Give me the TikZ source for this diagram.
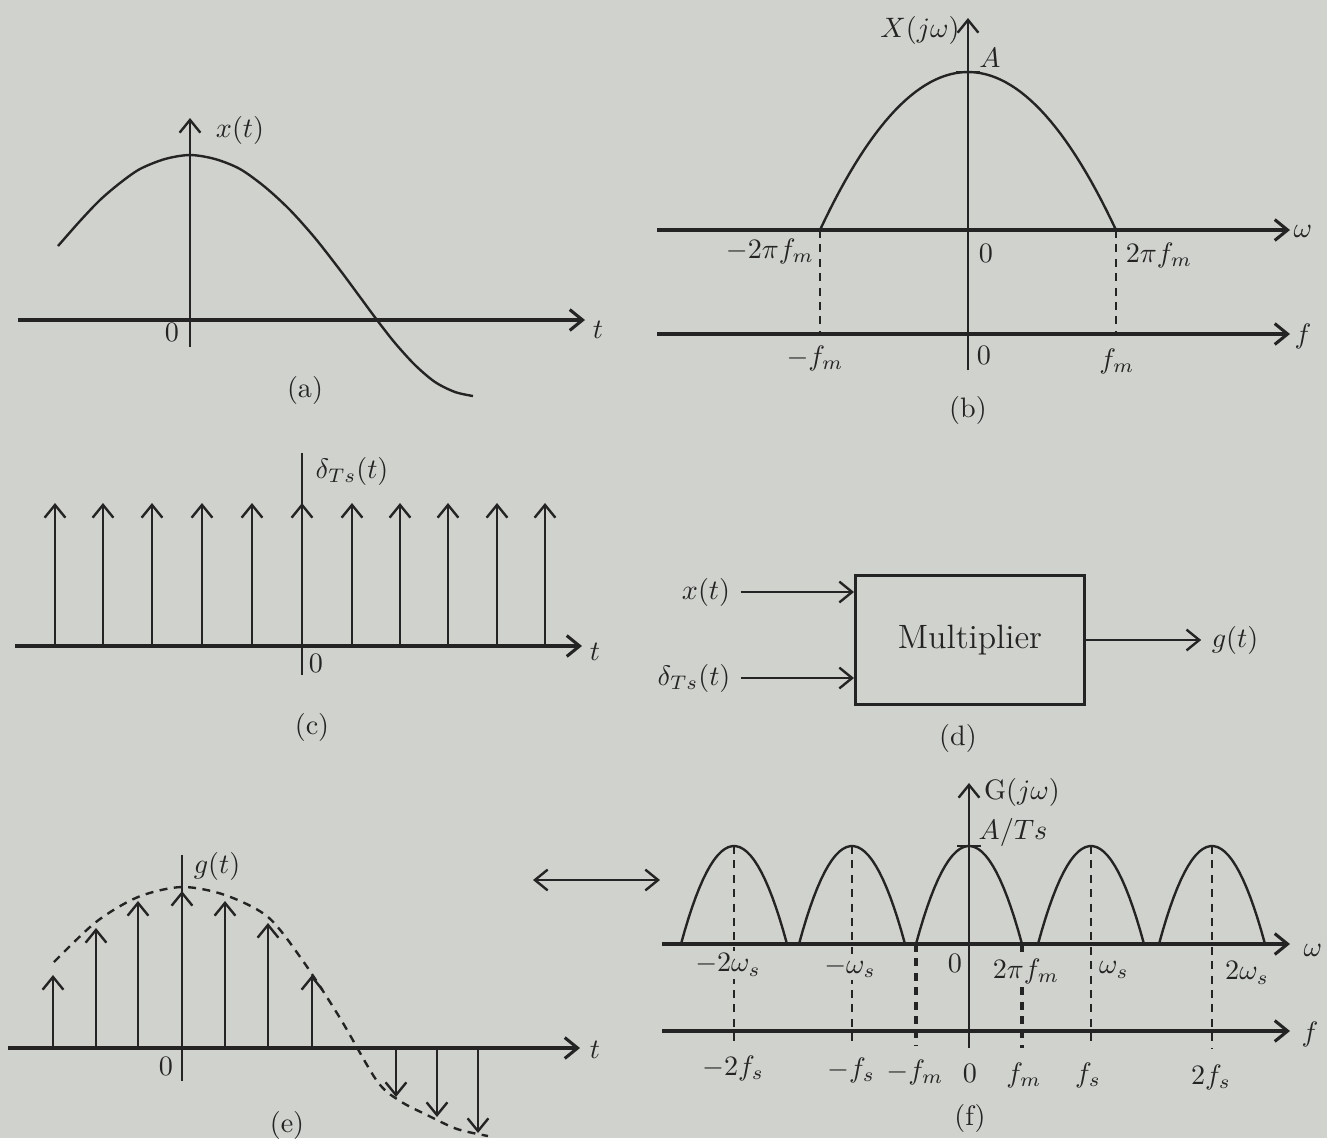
\documentclass[tikz,border=0pt]{standalone}
\usetikzlibrary{arrows.meta}
\definecolor{paper}{RGB}{208,211,205}
\definecolor{ink}{RGB}{36,36,36}
\begin{document}
\begin{tikzpicture}[x=0.0125cm, y=-0.0125cm, ink, line width=0.85pt,
		>={Straight Barb[length=1.6mm,width=2.6mm]},
		axis/.style={line width=1.1pt},
		guide/.style={dash pattern=on 1mm off 0.8mm},
		guidebold/.style={guide, line width=1.3pt},
		lbl/.style={fill=paper, inner sep=1pt}]
	\fill[paper] (0,0) rectangle (1327,1138);
	\useasboundingbox (0,0) rectangle (1327,1138);

	\draw[axis, ->] (18,320) -- (585,320);
	\draw[->] (190,347) -- (190,118);
	\draw plot[smooth] coordinates {(58,246) (80,221) (100,200) (120,183) (140,169) (165,159) (190,155) (215,159) (240,169) (265,187) (290,210) (315,238) (340,270) (360,297) (377,320) (395,343) (415,365) (435,382) (455,392) (473,396)};
	\node (xa) at (240,130) {$x(t)$};
	\node (oa) at (172,332) {0};
	\node (ta) at (598,330) {$t$};
	\node (capa) at (305,390) {(a)};

	\draw[axis, ->] (657,230) -- (1290,230);
	\draw[axis, ->] (657,334) -- (1290,334);
	\draw[->] (968,370) -- (968,18);
	\draw plot[domain=-148:148, samples=60] ({968+\x},{72+158*(\x/148)^2});
	\draw (956,72) -- (980,72);
	\draw[guide] (820,230) -- (820,334);
	\draw[guide] (1116,230) -- (1116,334);
	\node (xb) at (920,30) {$X(j\omega)$};
	\node (ab) at (990,58) {$A$};
	\node (wb) at (1303,231) {$\omega$};
	\node (fb) at (1303,336) {$f$};
	\node (wml) at (770,251) {$-2\pi f_m$};
	\node (wo) at (986,253) {0};
	\node (wmr) at (1159,255) {$2\pi f_m$};
	\node (fml) at (815,358) {$-f_m$};
	\node (fo) at (984,355) {0};
	\node (fmr) at (1117,361) {$f_m$};
	\node (capb) at (968,410) {(b)};

	\draw[axis, ->] (15,646) -- (582,646);
	\draw (302,453) -- (302,675);
	\draw[->] (55,646) -- (55,503);
	\draw[->] (103,646) -- (103,503);
	\draw[->] (152,646) -- (152,503);
	\draw[->] (202,646) -- (202,503);
	\draw[->] (252,646) -- (252,503);
	\draw[->] (302,646) -- (302,503);
	\draw[->] (352,646) -- (352,503);
	\draw[->] (400,646) -- (400,503);
	\draw[->] (448,646) -- (448,503);
	\draw[->] (497,646) -- (497,503);
	\draw[->] (545,646) -- (545,503);
	\node (dc) at (352,471) {$\delta_{Ts}(t)$};
	\node (oc) at (316,663) {0};
	\node (tc) at (595,652) {$t$};
	\node (capc) at (312,727) {(c)};

	\node[draw, line width=1.1pt, minimum width=2.86cm, minimum height=1.62cm, font=\large] (mult) at (970,640) {Multiplier};
	\node (xd) at (706,592) {$x(t)$};
	\node (dd) at (694,678) {$\delta_{Ts}(t)$};
	\node (gd) at (1235,640) {$g(t)$};
	\draw[->] (xd.east) -- (xd.east -| mult.west);
	\draw[->] (dd.east) -- (dd.east -| mult.west);
	\draw[->] (mult.east) -- (mult.east -| gd.west);
	\node (capd) at (958,738) {(d)};

	\draw[axis, ->] (8,1048) -- (580,1048);
	\draw (182,855) -- (182,1081);
	\draw[->] (53,1048) -- (53,975);
	\draw[->] (96,1048) -- (96,928);
	\draw[->] (138,1048) -- (138,901);
	\draw[->] (182,1048) -- (182,891);
	\draw[->] (225,1048) -- (225,901);
	\draw[->] (268,1048) -- (268,923);
	\draw[->] (312,1048) -- (312,975);
	\draw[->] (396,1048) -- (396,1097);
	\draw[->] (437,1048) -- (437,1117);
	\draw[->] (478,1048) -- (478,1133);
	\draw[guide] plot[smooth] coordinates {(54,962) (96,922) (138,897) (182,887) (225,895) (268,917) (303,961) (340,1018) (377,1081) (400,1101) (427,1115) (457,1129) (488,1136)};
	\node (ge) at (217,866) {$g(t)$};
	\node (oe) at (166,1066) {0};
	\node (te) at (595,1050) {$t$};
	\node (cape) at (287,1125) {(e)};

	\coordinate (pairl) at (533,880);
	\coordinate (pairr) at (660,880);
	\draw[<->] (pairl) -- (pairr);

	\draw[axis, ->] (662,944) -- (1290,944);
	\draw[axis, ->] (662,1031) -- (1290,1031);
	\draw[->] (969,1048) -- (969,783);
	\draw plot[domain=-53:53, samples=30] ({734+\x},{846+98*(\x/53)^2});
	\draw plot[domain=-53:53, samples=30] ({852+\x},{846+98*(\x/53)^2});
	\draw plot[domain=-53:53, samples=30] ({969+\x},{846+98*(\x/53)^2});
	\draw plot[domain=-53:53, samples=30] ({1091+\x},{846+98*(\x/53)^2});
	\draw plot[domain=-53:53, samples=30] ({1212+\x},{846+98*(\x/53)^2});
	\draw (957,846) -- (981,846);
	\draw[guide] (734,846) -- (734,1043);
	\draw[guide] (852,846) -- (852,1043);
	\draw[guidebold] (916,944) -- (916,1045);
	\draw[guidebold] (1022,944) -- (1022,1048);
	\draw[guide] (1091,846) -- (1091,1045);
	\draw[guide] (1212,846) -- (1212,1048);
	\node (gf) at (1022,792) {$\mathrm{G}(j\omega)$};
	\node (af) at (1013,832) {$A/Ts$};
	\node (wf) at (1313,950) {$\omega$};
	\node (ff) at (1310,1034) {$f$};
	\node[lbl] (w2l) at (728,965) {$-2\omega_s$};
	\node[lbl] (w1l) at (850,967) {$-\omega_s$};
	\node (wof) at (955,963) {0};
	\node[lbl] (wm) at (1026,971) {$2\pi f_m$};
	\node (w1r) at (1114,970) {$\omega_s$};
	\node (w2r) at (1247,973) {$2\omega_s$};
	\node (f2l) at (733,1068) {$-2f_s$};
	\node (f1l) at (851,1070) {$-f_s$};
	\node (fmlf) at (915,1072) {$-f_m$};
	\node (fof) at (970,1073) {0};
	\node (fmrf) at (1024,1075) {$f_m$};
	\node (f1r) at (1088,1075) {$f_s$};
	\node (f2r) at (1211,1077) {$2f_s$};
	\node (capf) at (970,1118) {(f)};
\end{tikzpicture}
\end{document}
